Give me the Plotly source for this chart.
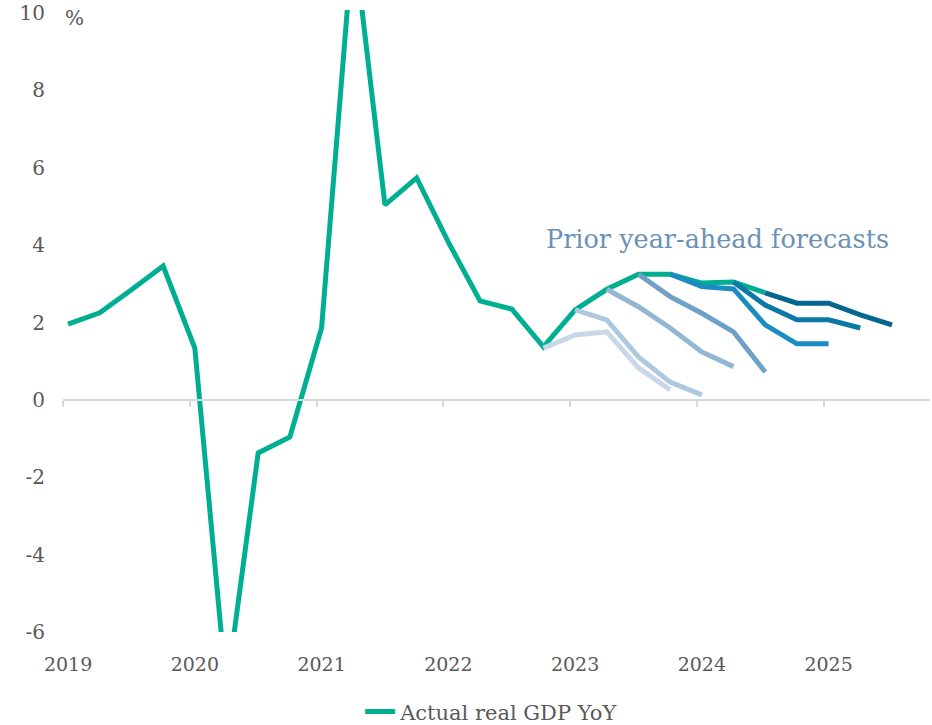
import plotly.graph_objects as go

# ---- data ----
quarters = ["2019Q1","2019Q2","2019Q3","2019Q4","2020Q1","2020Q2","2020Q3","2020Q4",
            "2021Q1","2021Q2","2021Q3","2021Q4","2022Q1","2022Q2","2022Q3","2022Q4",
            "2023Q1","2023Q2","2023Q3","2023Q4","2024Q1","2024Q2","2024Q3"]
actual_gdp = [1.96, 2.25, 2.85, 3.46, 1.34, -7.5, -1.37, -0.96,
              1.86, 12.0, 5.04, 5.74, 4.08, 2.56, 2.35, 1.37,
              2.33, 2.86, 3.25, 3.25, 3.02, 3.05, 2.77]

fc_start = ["2022Q4", "2023Q1", "2023Q2", "2023Q3", "2023Q4", "2024Q2", "2024Q3"]
fc_values = [
    [1.34, 1.68, 1.76, 0.83, 0.26],
    [2.33, 2.07, 1.11, 0.46, 0.13],
    [2.86, 2.41, 1.86, 1.24, 0.86],
    [3.25, 2.67, 2.24, 1.76, 0.72],
    [3.25, 2.93, 2.87, 1.94, 1.45, 1.45],
    [3.05, 2.45, 2.07, 2.07, 1.86],
    [2.77, 2.50, 2.50, 2.20, 1.94],
]
fc_colors = ["#C8D8E8", "#AFC8DE", "#93B6D3", "#6FA0C8", "#1A8CC2", "#0B78A8", "#05668F"]

year_ticks = [2019, 2020, 2021, 2022, 2023, 2024, 2025]
year_labels = ["2019", "2020", "2021", "2022", "2023", "2024", "2025"]
y_ticks = [-6, -4, -2, 0, 2, 4, 6, 8, 10]
y_labels = ["-6", "-4", "-2", "0", "2", "4", "6", "8", "10"]


def qpos(q):
    return int(q[:4]) + (int(q[5]) - 1) / 4.0


def qseq(start, n):
    y, q = int(start[:4]), int(start[5])
    out = []
    for _ in range(n):
        out.append(f"{y}Q{q}")
        q += 1
        if q > 4:
            q, y = 1, y + 1
    return out


GREEN = "#00AE91"
TXT = "#595959"
AX = "#D9D9D9"
FONT = "DejaVu Serif"

fig = go.Figure()
fig.add_trace(go.Scatter(
    x=[qpos(q) for q in quarters], y=actual_gdp, mode="lines",
    line=dict(color=GREEN, width=5), name="Actual real GDP YoY", showlegend=True))

for s, vals, c in zip(fc_start, fc_values, fc_colors):
    fig.add_trace(go.Scatter(
        x=[qpos(q) for q in qseq(s, len(vals))], y=vals, mode="lines",
        line=dict(color=c, width=5), showlegend=False, hoverinfo="skip"))

xr = [2018.96, 2025.80]
yr = [-6, 10.08]

fig.update_layout(
    width=932, height=725,
    margin=dict(l=63, r=2, t=10, b=93),
    paper_bgcolor="white", plot_bgcolor="white",
    font=dict(family=FONT, color=TXT, size=19),
    xaxis=dict(range=xr, tickvals=year_ticks, ticktext=year_labels, automargin=False,
               showgrid=False, zeroline=False, showline=False, ticks="",
               ticklabelstandoff=19, tickfont=dict(size=19, color=TXT)),
    xaxis2=dict(range=xr, overlaying="x", anchor="free", automargin=False,
                position=(0 - yr[0]) / (yr[1] - yr[0]),
                tickvals=[t - 0.04 for t in year_ticks], showticklabels=False,
                showgrid=False, zeroline=False, showline=True, linecolor=AX, linewidth=2,
                ticks="outside", ticklen=6, tickcolor=AX, tickwidth=2),
    yaxis=dict(range=yr, tickvals=y_ticks, ticktext=y_labels, automargin=False,
               showgrid=False, zeroline=False,
               showline=False, ticks="", ticklabelstandoff=17,
               tickfont=dict(size=20, color=TXT)),
    showlegend=True,
    legend=dict(orientation="h", x=0.495, xanchor="center",
                yref="container", y=0.018, yanchor="middle",
                font=dict(size=21, color=TXT), bgcolor="rgba(0,0,0,0)"),
    annotations=[
        dict(text="%", xref="paper", x=0.0, xanchor="left", yref="y", y=10, yshift=-5,
             showarrow=False, font=dict(size=20, color=TXT, family=FONT)),
        dict(text="Prior year-ahead forecasts", xref="x", x=2024.12, yref="y", y=4.15,
             xanchor="center", yanchor="middle", showarrow=False,
             font=dict(size=25.5, color="#6A91B6", family=FONT)),
    ],
)
# dummy trace so xaxis2 renders
fig.add_trace(go.Scatter(x=[xr[0]], y=[None], xaxis="x2", yaxis="y", mode="lines",
                         showlegend=False, hoverinfo="skip"))

fig.write_html("out.html", config={"displayModeBar": False},
               post_script="document.body.style.margin='0';document.body.style.overflow='hidden';")
